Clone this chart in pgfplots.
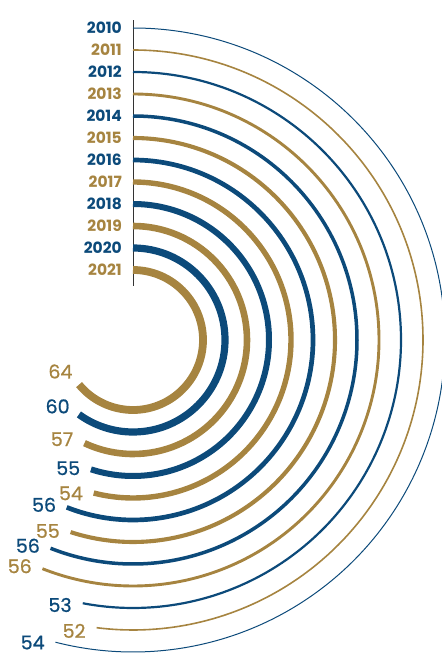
\documentclass[border=0pt]{standalone}
\usepackage{pgfplots}
\pgfplotsset{compat=1.18}
\usepackage{pgfplotstable}
\usepackage{fontspec}
\setmainfont{Poppins}
\newfontfamily\medfont{Poppins}[FakeBold=0.8]
\definecolor{cblue}{RGB}{12,74,122}
\definecolor{cgold}{RGB}{166,132,64}
\pgfdeclareplotmark{empty}{}
\pgfplotstableread{
year r val lw
2010 312 54 1.0
2012 268 53 2.2
2014 224 56 3.5
2016 180 56 4.7
2018 136 55 6.0
2020 92 60 7.2
}\bluedata
\pgfplotstableread{
year r val lw
2011 290 52 1.6
2013 246 56 2.9
2015 202 55 4.1
2017 158 54 5.4
2019 114 57 6.6
2021 70 64 7.8
}\golddata
\pgfplotsset{
  arcplot/.style={
    scatter, only marks, mark=empty,
    visualization depends on={\thisrow{year} \as \Yyr},
    visualization depends on={\thisrow{r} \as \Rr},
    visualization depends on={\thisrow{val} \as \Vv},
    visualization depends on={\thisrow{lw} \as \Lw},
    scatter/@pre marker code/.code={%
      \pgfkeys{/pgf/fpu=false}%
      \pgfmathsetmacro\Aang{3.6*\Vv}%
      \pgfmathsetmacro\Lx{\Rr*sin(\Aang)+22*cos(\Aang)+6*sin(\Aang)}%
      \pgfmathsetmacro\Ly{\Rr*cos(\Aang)-\Rr-22*sin(\Aang)+6*cos(\Aang)}%
      \draw[color=#1, line width=\Lw pt, line cap=butt] (0pt,0pt) arc[start angle=90, delta angle=-\Aang, radius=\Rr pt];
      \node[text=#1, font=\bfseries\fontsize{15.5}{15.5}\selectfont, anchor=east, inner sep=0pt] at (-11pt,0pt) {\pgfmathprintnumber[assume math mode=true,fixed,precision=0,1000 sep={}]{\Yyr}};
      \node[text=#1, font=\medfont\fontsize{19}{19}\selectfont, inner sep=0pt] at (\Lx pt,\Ly pt) {\pgfmathprintnumber[assume math mode=true,fixed,precision=0]{\Vv}};
    },
    scatter/@post marker code/.code={},
  },
}
\begin{document}
\begin{tikzpicture}
\begin{axis}[name=ax, hide axis, x=1pt, y=1pt, xmin=-133, xmax=309, ymin=-317, ymax=340, clip=false]
\addplot[color=black!80, line width=1pt] coordinates {(0,54) (0,320)};
\addplot[arcplot=cblue] table[x expr=0, y=r] {\bluedata};
\addplot[arcplot=cgold] table[x expr=0, y=r] {\golddata};
\end{axis}
\pgfresetboundingbox
\path (ax.south west) rectangle (ax.north east);
\end{tikzpicture}
\end{document}
